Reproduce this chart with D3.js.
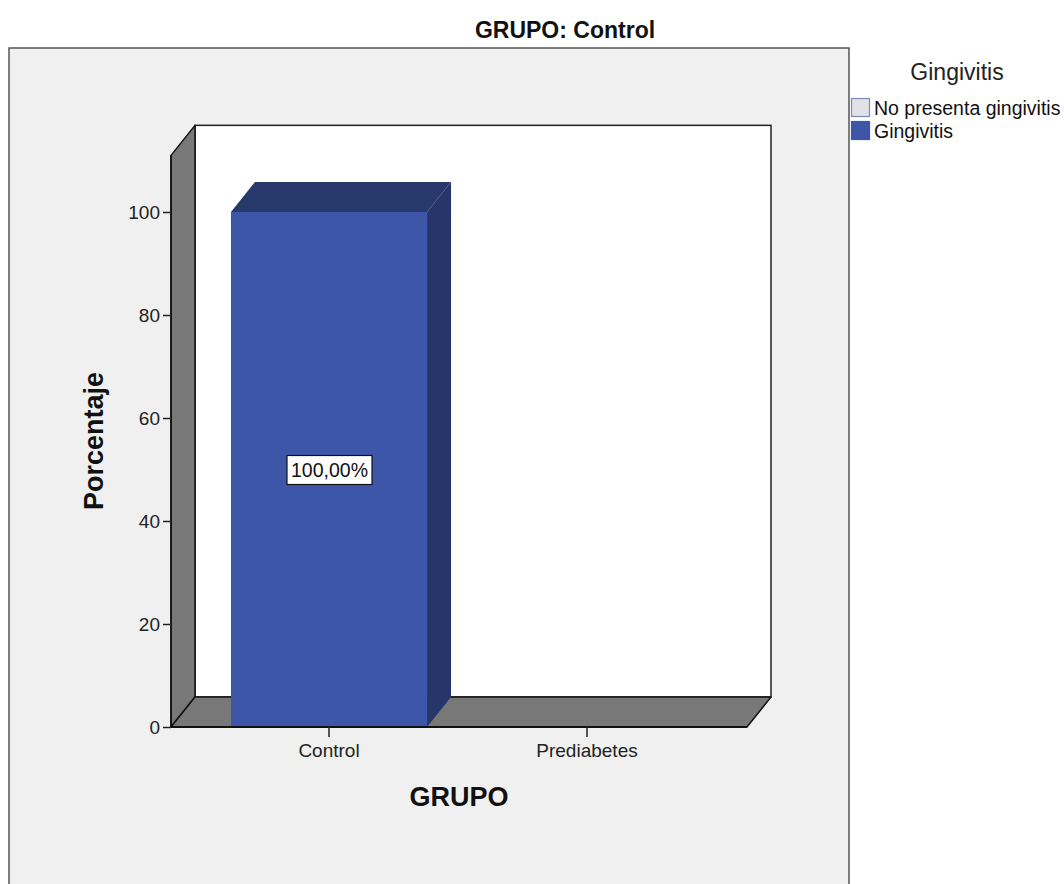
<!DOCTYPE html>
<html>
<head>
<meta charset="utf-8">
<script src="https://cdn.jsdelivr.net/npm/d3@7"></script>
<style>
  html, body { margin: 0; padding: 0; background: #ffffff; }
  svg { display: block; font-family: Arial, "Liberation Sans", sans-serif; }
</style>
</head>
<body>
<svg id="chart" width="1064" height="884"></svg>
<script>
// Data
const categories = ["Control", "Prediabetes"];
const gingivitisPct = [100, 0];          // "Gingivitis" percentage per group
const noGingivitisPct = [0, 0];          // "No presenta gingivitis" percentage per group
const yTicks = [0, 20, 40, 60, 80, 100];
const legendLabels = ["No presenta gingivitis", "Gingivitis"];
const legendColors = ["#e1e1e6", "#3d56a8"];
const valueLabels = ["100,00%", ""];

const FONT = "Arial, 'Liberation Sans', sans-serif";
const svg = d3.select("#chart");

// 3D depth offset of the plot box
const DX = 24, DY = -30;

// Scales (front plane)
const y = d3.scaleLinear().domain([0, 100]).range([727, 212]);
const x = d3.scaleBand().domain(categories).range([200, 716]);
const barW = x.bandwidth() * 0.76;
const frontL = 171, frontR = 747;
const wallTop = y(111);

// Outer frame
svg.append("rect")
  .attr("x", 9).attr("y", 48).attr("width", 840).attr("height", 860)
  .attr("fill", "#f0f0f0").attr("stroke", "#555").attr("stroke-width", 1.5);

// Title
svg.append("text")
  .attr("x", 565).attr("y", 38).attr("text-anchor", "middle")
  .attr("font-size", 23).attr("font-weight", "bold").attr("fill", "#111")
  .text("GRUPO: Control");

const line = d3.line();

// Back wall
svg.append("rect")
  .attr("x", frontL + DX).attr("y", wallTop + DY)
  .attr("width", frontR - frontL).attr("height", y(0) - wallTop)
  .attr("fill", "#ffffff").attr("stroke", "#222").attr("stroke-width", 1.5);

// Side wall
svg.append("path")
  .attr("d", line([[frontL, wallTop], [frontL + DX, wallTop + DY], [frontL + DX, y(0) + DY], [frontL, y(0)]]) + "Z")
  .attr("fill", "#787878").attr("stroke", "#111").attr("stroke-width", 1.5).attr("stroke-linejoin", "round");

// Floor
svg.append("path")
  .attr("d", line([[frontL, y(0)], [frontL + DX, y(0) + DY], [frontR + DX, y(0) + DY], [frontR, y(0)]]) + "Z")
  .attr("fill", "#787878").attr("stroke", "#111").attr("stroke-width", 1.5).attr("stroke-linejoin", "round");

// Bars (Gingivitis series; the other series is zero in both groups)
const bars = svg.append("g");
categories.forEach((c, i) => {
  const v = gingivitisPct[i];
  if (v <= 0) return;
  const cx = x(c) + x.bandwidth() / 2;
  const x0 = cx - barW / 2, x1 = cx + barW / 2;
  const yt = y(v), yb = y(0);
  bars.append("path")
    .attr("d", line([[x1, yt], [x1 + DX, yt + DY], [x1 + DX, yb + DY], [x1, yb]]) + "Z")
    .attr("fill", "#26366a");
  bars.append("path")
    .attr("d", line([[x0, yt], [x0 + DX, yt + DY], [x1 + DX, yt + DY], [x1, yt]]) + "Z")
    .attr("fill", "#27386b");
  bars.append("rect")
    .attr("x", x0).attr("y", yt).attr("width", barW).attr("height", yb - yt)
    .attr("fill", "#3d56a8");
  // Value label box
  const lbl = valueLabels[i];
  const ly = y(v / 2);
  bars.append("rect")
    .attr("x", cx - 42).attr("y", ly - 14).attr("width", 85).attr("height", 29)
    .attr("fill", "#fff").attr("stroke", "#111").attr("stroke-width", 1.2);
  bars.append("text")
    .attr("x", cx + 0.5).attr("y", ly + 7.5).attr("text-anchor", "middle")
    .attr("font-size", 19.5).attr("fill", "#111").text(lbl);
});

// Front axis lines
svg.append("line").attr("x1", frontL).attr("x2", frontR).attr("y1", y(0)).attr("y2", y(0))
  .attr("stroke", "#111").attr("stroke-width", 2);
svg.append("line").attr("x1", frontL).attr("x2", frontL).attr("y1", wallTop).attr("y2", y(0))
  .attr("stroke", "#111").attr("stroke-width", 1.5);

// Y axis
const yAxis = d3.axisLeft(y).tickValues(yTicks).tickSize(8).tickPadding(3).tickFormat(d3.format("d"));
const gy = svg.append("g").attr("transform", `translate(${frontL},0)`).call(yAxis)
  .attr("font-size", 19).attr("font-family", FONT);
gy.select(".domain").remove();
gy.selectAll(".tick line").attr("stroke", "#222").attr("stroke-width", 1.5);
gy.selectAll(".tick text").attr("fill", "#222");

// X axis
const xAxis = d3.axisBottom(x).tickSize(10).tickPadding(7);
const gx = svg.append("g").attr("transform", `translate(0,${y(0)})`).call(xAxis)
  .attr("font-size", 19).attr("font-family", FONT);
gx.select(".domain").remove();
gx.selectAll(".tick line").attr("stroke", "#222").attr("stroke-width", 1.5);
gx.selectAll(".tick text").attr("fill", "#222");

// Axis titles
svg.append("text")
  .attr("transform", "translate(103,441) rotate(-90)")
  .attr("text-anchor", "middle").attr("font-size", 27).attr("font-weight", "bold").attr("fill", "#111")
  .text("Porcentaje");
svg.append("text")
  .attr("x", 459).attr("y", 806).attr("text-anchor", "middle")
  .attr("font-size", 27).attr("font-weight", "bold").attr("fill", "#111")
  .text("GRUPO");

// Legend
const lg = svg.append("g");
lg.append("text").attr("x", 957).attr("y", 80).attr("text-anchor", "middle")
  .attr("font-size", 23).attr("fill", "#222").text("Gingivitis");
legendLabels.forEach((l, i) => {
  const yy = 98 + i * 23;
  lg.append("rect").attr("x", 851.5).attr("y", yy + 0.5).attr("width", 18).attr("height", 18)
    .attr("fill", legendColors[i]).attr("stroke", i === 0 ? "#7c88b8" : legendColors[i]).attr("stroke-width", 1.2);
  lg.append("text").attr("x", 874).attr("y", yy + 17).attr("font-size", 19.5).attr("fill", "#111").text(l);
});
</script>
</body>
</html>
